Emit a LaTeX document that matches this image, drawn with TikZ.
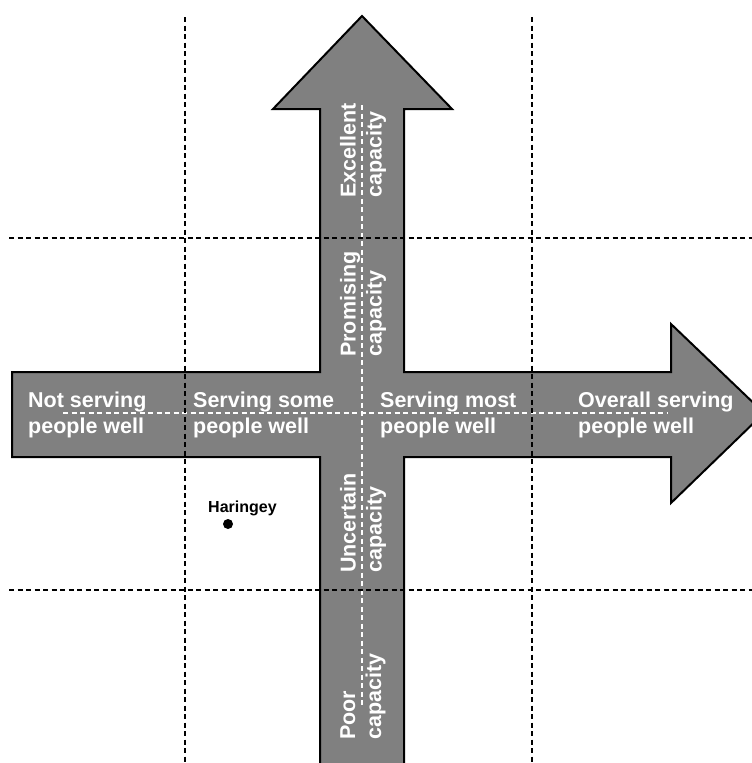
\documentclass[tikz,border=0pt]{standalone}
\usepackage{fontspec}
\setmainfont{Liberation Sans}
\usepackage{tikz}
\usetikzlibrary{calc}

\definecolor{arrowgray}{RGB}{128,128,128}

\begin{document}
\begin{tikzpicture}[x=1pt, y=-1pt,
    axislabel/.style={text=white, inner sep=0pt, align=left,
      font=\fontsize{21.5}{26}\selectfont\bfseries},
    griddash/.style={black, line width=1.6pt, dash pattern=on 5pt off 3.5pt},
    middash/.style={white, line width=1.5pt, dash pattern=on 5pt off 3.5pt}]
  \useasboundingbox (0,0) rectangle (752,763);
  % the two arrows, drawn as one outline
  \filldraw[fill=arrowgray, draw=black, line width=2pt, line join=miter]
    (362,16) -- (452,109) -- (404,109) -- (404,372) -- (671,372) -- (671,324)
    -- (764,413) -- (671,503) -- (671,457) -- (404,457) -- (404,775)
    -- (320,775) -- (320,457) -- (12,457) -- (12,372) -- (320,372)
    -- (320,109) -- (273,109) -- cycle;
  % white middle lines
  \draw[middash] (362,105) -- (362,708);
  \draw[middash] (63,413) -- (667,413);
  % black grid lines
  \draw[griddash] (185,17) -- (185,763);
  \draw[griddash] (532,17) -- (532,763);
  \draw[griddash] (9,238) -- (752,238);
  \draw[griddash] (9,590) -- (752,590);
  % horizontal labels
  \node[axislabel, anchor=west] (notwell) at (28,415) {Not serving\\people well};
  \node[axislabel, anchor=west] (somewell) at (193,415) {Serving some\\people well};
  \node[axislabel, anchor=west] (mostwell) at (380,415) {Serving most\\people well};
  \node[axislabel, anchor=west] (allwell) at (578,415) {Overall serving\\people well};
  % vertical labels
  \node[axislabel, rotate=90, anchor=west] (excellent) at (363,198) {Excellent\\capacity};
  \node[axislabel, rotate=90, anchor=west] (promising) at (363,357) {Promising\\capacity};
  \node[axislabel, rotate=90, anchor=west] (uncertain) at (363,573) {Uncertain\\capacity};
  \node[axislabel, rotate=90, anchor=west] (poor) at (363,740) {Poor\\capacity};
  % the council
  \node[anchor=base west, inner sep=0pt, font=\fontsize{16}{19}\selectfont\bfseries] (haringey) at (208,512) {Haringey};
  \fill (228,524) circle (5);
\end{tikzpicture}
\end{document}
